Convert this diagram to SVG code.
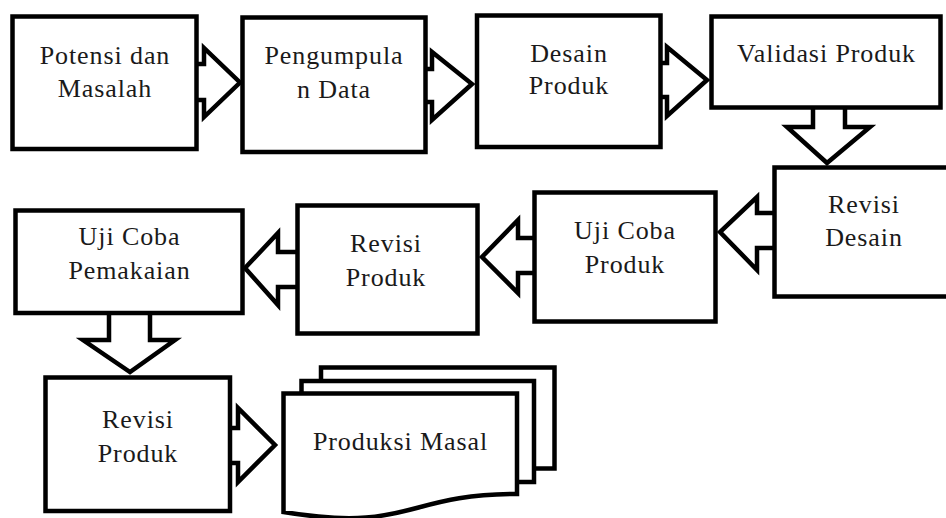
<svg xmlns="http://www.w3.org/2000/svg" width="946" height="518" viewBox="0 0 946 518">
  <style>
    .box { fill: #ffffff; stroke: #000000; stroke-width: 4.5; stroke-linejoin: miter; }
    .arrow { fill: #ffffff; stroke: #000000; stroke-width: 4.5; stroke-linejoin: miter; stroke-miterlimit: 10; }
    text { font-family: "Liberation Serif", "Times New Roman", Times, Tinos, "DejaVu Serif", "Noto Serif", serif; font-size: 26px; letter-spacing: 0.9px; fill: #1a1a1a; text-anchor: middle; }
  </style>
  <rect width="946" height="518" fill="#ffffff"/>

  <!-- block arrows between steps (drawn first so the boxes cover their tails) -->
  <g id="connectors">
    <polygon class="arrow" points="180,64 204,64 204,48 240,82.5 204,117 204,100 180,100"/>
    <polygon class="arrow" points="410,69 432,69 432,52 472,84 432,120 432,102 410,102"/>
    <polygon class="arrow" points="645,63 667,63 667,47 707,80 667,116 667,97 645,97"/>
    <polygon class="arrow" points="813,95 813,127 787,127 827,163 870,127 845,127 845,95"/>
    <polygon class="arrow" points="790,213 757,213 757,197 720,232 757,270 757,248 790,248"/>
    <polygon class="arrow" points="550,238 518,238 518,220 482,257 518,293 518,273 550,273"/>
    <polygon class="arrow" points="312,252 278,252 278,233 245,268 278,305 278,287 312,287"/>
    <polygon class="arrow" points="109,300 109,340 83,340 130,372 175,340 150,340 150,300"/>
    <polygon class="arrow" points="215,428 238,428 238,408 275,445 238,482 238,463 215,463"/>
  </g>

  <g id="potensi-dan-masalah">
    <rect class="box" x="12.5" y="16.5" width="184" height="132.5"/>
    <text x="105" y="64" font-family="Liberation Serif, serif">Potensi dan</text>
    <text x="105" y="97" font-family="Liberation Serif, serif">Masalah</text>
  </g>

  <g id="pengumpulan-data">
    <rect class="box" x="242.5" y="17.5" width="183" height="134.5"/>
    <text x="334" y="64">Pengumpula</text>
    <text x="334" y="98">n Data</text>
  </g>

  <g id="desain-produk">
    <rect class="box" x="477" y="15.5" width="183.5" height="131.5"/>
    <text x="569" y="62">Desain</text>
    <text x="569" y="94">Produk</text>
  </g>

  <g id="validasi-produk">
    <rect class="box" x="711.5" y="16.5" width="229" height="91"/>
    <text x="826.5" y="62">Validasi Produk</text>
  </g>

  <g id="revisi-desain">
    <rect class="box" x="774.5" y="167.5" width="182" height="129"/>
    <text x="864" y="213">Revisi</text>
    <text x="864" y="246">Desain</text>
  </g>

  <g id="uji-coba-produk">
    <rect class="box" x="534.5" y="192.5" width="181" height="129"/>
    <text x="625" y="239">Uji Coba</text>
    <text x="625" y="273">Produk</text>
  </g>

  <g id="revisi-produk-1">
    <rect class="box" x="297.5" y="205.5" width="180" height="128"/>
    <text x="386" y="252">Revisi</text>
    <text x="386" y="286">Produk</text>
  </g>

  <g id="uji-coba-pemakaian">
    <rect class="box" x="15.5" y="210.5" width="227" height="102.5"/>
    <text x="129.5" y="245">Uji Coba</text>
    <text x="129.5" y="279">Pemakaian</text>
  </g>

  <g id="revisi-produk-2">
    <rect class="box" x="45.5" y="377.5" width="184.5" height="133.5"/>
    <text x="138" y="428">Revisi</text>
    <text x="138" y="462">Produk</text>
  </g>

  <!-- stacked multi-document shape -->
  <g id="produksi-masal">
    <rect class="box" x="321" y="367.5" width="233.5" height="101"/>
    <rect class="box" x="301.5" y="381" width="232.5" height="101"/>
    <path class="box" d="M283.5,393.5 H517 V494 C405,494 410,533 283.5,512 Z"/>
    <text x="400.5" y="450">Produksi Masal</text>
  </g>
</svg>
